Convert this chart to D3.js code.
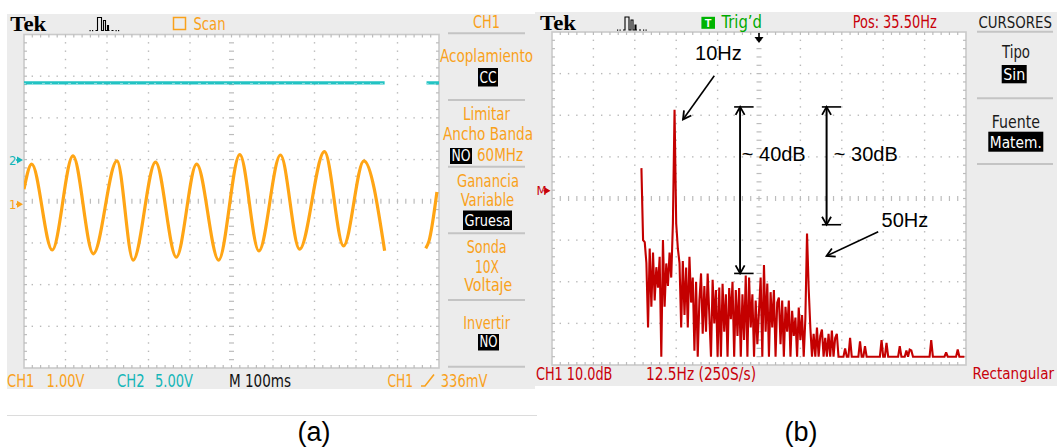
<!DOCTYPE html>
<html>
<head>
<meta charset="utf-8">
<script src="https://cdn.jsdelivr.net/npm/d3@7"></script>
<style>
body { margin: 0; background: #fff; }
svg { display: block; }
</style>
</head>
<body>
<div id="chart"></div>
<script>

// (a) CH1 trace, extrema of the sine (time in ms, volts), scan mode leaves a gap
var sineT = [0, 18.6, 68, 118, 167, 224, 263, 317, 367, 416, 469, 520, 566, 618, 664, 724, 770, 819, 869];
var sineV = [0.29, 0.89, -1.17, 1.09, -1.26, 0.97, -1.41, 0.94, -1.34, 0.89, -1.41, 1.12, -1.19, 1.11, -1.15, 1.19, -1.07, 0.97, -1.19];
var sineT2 = [968, 976, 995];
var sineV2 = [-1.13, -0.95, 0.22];

// (a) CH2 trace, flat (volts)
var ch2T = [0, 869];
var ch2T2 = [970, 1000];
var ch2V = 9.2;

// (b) FFT magnitude, dB, one value every 0.5 Hz from 0 Hz
var fftStep = 0.5;
var fftDb = [
  5.3, -12, -12.5, -17.5, -33, -14, -28, -15, -26.5, -18.5,
  -23.4, -16, -40, -12, -28, -17.6, -23, -15, -21, -8,
  19.3, -8, -14, -17.5, -33, -17, -30, -18.6, -33, -16,
  -27, -21, -38.6, -22, -40, -26.5, -20, -34.5, -23, -34,
  -20, -30, -40, -21.5, -32, -24, -40, -23.4, -40, -22.5,
  -34, -25, -40, -23.5, -31, -22, -40, -24, -35, -23.5,
  -40, -25, -36, -20.5, -40, -21, -33, -25, -40, -26.5,
  -37, -29, -21, -40, -18, -34, -22.4, -40, -24.5, -33,
  -24, -40, -27, -25.8, -37, -26.5, -40, -28, -34, -26.5,
  -40, -29, -35, -30.6, -40, -28.2, -36, -30, -40, -30.8,
  -10.4, -23.6, -33, -40, -34.5, -40, -33, -40, -35, -33.5,
  -40, -35.5, -40, -34.5, -40, -33.7, -40, -35.5, -34.5, -40,
  -40, -40, -40, -38, -40, -40, -35.5, -40, -40, -40,
  -40, -40, -36.3, -40, -40, -37.5, -40, -40, -40, -40,
  -40, -40, -40, -40, -40, -36, -40, -40, -36.7, -40,
  -40, -40, -40, -40, -40, -40, -37.5, -40, -40, -40,
  -38.5, -40, -38.3, -38.5, -40, -40, -40, -40, -40, -40,
  -40, -40, -40, -40, -40, -36, -40, -40, -40, -40,
  -40, -40, -40, -40, -39, -40, -40, -40, -40, -40,
  -40, -38.3, -40, -40, -40, -40
];

// annotations on (b): [Hz, dB]
var arrow10 = [[22.0, 27.5], [12.55, 17.0]];
var arrow50 = [[71.5, -10], [55.9, -15.8]];
var span40 = {f: 29.8, top: 20, bottom: -20};
var span30 = {f: 55.9, top: 20, bottom: -8.3};

var W = 1057, H = 447;
var orange = "#f9a11b", cyan = "#14b6b8", red = "#c8000a", green = "#00aa00", panel = "#ececec";
var tekFont = "'Liberation Sans Narrow','DejaVu Sans Condensed','Liberation Sans',sans-serif";

var svg = d3.select("#chart").append("svg")
  .attr("width", W).attr("height", H)
  .style("font-family", "'Liberation Sans', Arial, sans-serif");

var defs = svg.append("defs");
defs.append("marker").attr("id", "head")
  .attr("viewBox", "-10 -6 12 12").attr("refX", 0).attr("refY", 0)
  .attr("markerWidth", 12).attr("markerHeight", 12)
  .attr("markerUnits", "userSpaceOnUse").attr("orient", "auto")
  .append("path").attr("d", "M-8,-4.5 L0,0 L-8,4.5")
  .attr("fill", "none").attr("stroke", "#000").attr("stroke-width", 1.8);

// grey screen backgrounds
svg.append("rect").attr("x", 7).attr("y", 14).attr("width", 528).attr("height", 375).attr("fill", panel);
svg.append("rect").attr("x", 535).attr("y", 12).attr("width", 522).attr("height", 374).attr("fill", panel);

function tek(g, str, x, y, opt) {
  opt = opt || {};
  var t = g.append("text").attr("x", x).attr("y", y).text(str)
    .attr("fill", opt.color || orange)
    .style("font-family", tekFont)
    .style("font-size", (opt.size || 17) + "px");
  if (opt.w) t.attr("textLength", opt.w).attr("lengthAdjust", "spacingAndGlyphs");
  return t;
}

function tekBox(g, str, x0, y0, x1, y1, base) {
  g.append("rect").attr("x", x0).attr("y", y0).attr("width", x1 - x0).attr("height", y1 - y0).attr("fill", "#000");
  tek(g, str, x0 + 1.5, base, {color: "#fff", w: x1 - x0 - 3, size: 16});
}

function sep(g, x0, x1, y) {
  g.append("line").attr("x1", x0).attr("x2", x1).attr("y1", y).attr("y2", y)
    .attr("stroke", "#c4c4c4").attr("stroke-width", 2);
}

function tekLogo(g, x, y) {
  g.append("text").attr("x", x).attr("y", y).text("Tek")
    .attr("textLength", 36).attr("lengthAdjust", "spacingAndGlyphs")
    .style("font-family", "'Liberation Serif','DejaVu Serif',serif")
    .style("font-weight", "bold").style("font-size", "21px").attr("fill", "#000");
}

function acqIcon(g, x, y) {
  var ic = g.append("g").attr("transform", "translate(" + x + "," + y + ")");
  ic.append("path").attr("d", "M6,15 H8 V2 H12 V15 H14 V5 H16 V15 H18 V10 H19 V15 H20 M22,15 H24")
    .attr("fill", "none").attr("stroke", "#000").attr("stroke-width", 1.1);
  [0, 2.5, 26, 28.5].forEach(function (d) {
    ic.append("rect").attr("x", d).attr("y", 14.5).attr("width", 1.2).attr("height", 1.2).attr("fill", "#000");
  });
}

function graticule(g, b) {
  var gx = d3.scaleLinear().domain([0, 50]).range([b.x0, b.x1]);
  var gy = d3.scaleLinear().domain([0, 40]).range([b.y0, b.y1]);
  g.append("rect").attr("x", b.x0).attr("y", b.y0).attr("width", b.x1 - b.x0).attr("height", b.y1 - b.y0)
    .attr("fill", "#fff").attr("stroke", "#cacaca").attr("stroke-width", 1.6);
  var dots = [];
  [1, 2, 3, 4, 6, 7, 8, 9].forEach(function (d) {
    d3.range(1, 40).forEach(function (k) { dots.push([gx(d * 5), gy(k)]); });
  });
  [1, 2, 3, 5, 6, 7].forEach(function (d) {
    d3.range(1, 50).forEach(function (k) { if (k % 5) dots.push([gx(k), gy(d * 5)]); });
  });
  g.selectAll(null).data(dots).enter().append("rect")
    .attr("x", function (d) { return d[0] - 0.7; }).attr("y", function (d) { return d[1] - 0.7; })
    .attr("width", 1.4).attr("height", 1.4).attr("fill", "#b9b9b9");
  var tk = g.append("g").attr("stroke", "#bcbcbc").attr("stroke-width", 1.2);
  d3.range(1, 40).forEach(function (k) {
    tk.append("line").attr("x1", gx(25) - 2.5).attr("x2", gx(25) + 2.5).attr("y1", gy(k)).attr("y2", gy(k));
    tk.append("line").attr("x1", b.x0).attr("x2", b.x0 + 3).attr("y1", gy(k)).attr("y2", gy(k));
    tk.append("line").attr("x1", b.x1 - 3).attr("x2", b.x1).attr("y1", gy(k)).attr("y2", gy(k));
  });
  d3.range(1, 50).forEach(function (k) {
    tk.append("line").attr("y1", gy(20) - 2.5).attr("y2", gy(20) + 2.5).attr("x1", gx(k)).attr("x2", gx(k));
    tk.append("line").attr("y1", b.y0).attr("y2", b.y0 + 3).attr("x1", gx(k)).attr("x2", gx(k));
    tk.append("line").attr("y1", b.y1 - 3).attr("y2", b.y1).attr("x1", gx(k)).attr("x2", gx(k));
  });
}

function chMarker(g, label, color, x, y) {
  g.append("text").attr("x", x).attr("y", y + 4.5).text(label).attr("fill", color)
    .style("font-family", tekFont).style("font-size", "13px");
  g.append("path").attr("d", "M" + (x + 8) + "," + (y - 3.5) + " L" + (x + 14) + "," + y + " L" + (x + 8) + "," + (y + 3.5) + "Z")
    .attr("fill", color);
  g.append("line").attr("x1", x + 7).attr("x2", x + 9).attr("y1", y).attr("y2", y).attr("stroke", color).attr("stroke-width", 1.5);
}

// ================= (a) time domain =================
var gA = svg.append("g");
var boxA = {x0: 24, x1: 439, y0: 34.5, y1: 368};
var xA = d3.scaleLinear().domain([0, 1000]).range([boxA.x0, boxA.x1]);
var yA1 = d3.scaleLinear().domain([-4, 4]).range([boxA.y1, boxA.y0]);    // 1 V/div
var yA2 = d3.scaleLinear().domain([-25, 15]).range([boxA.y1, boxA.y0]);  // 5 V/div, offset +1 div

graticule(gA, boxA);
defs.append("clipPath").attr("id", "clipA").append("rect")
  .attr("x", boxA.x0).attr("y", boxA.y0).attr("width", boxA.x1 - boxA.x0).attr("height", boxA.y1 - boxA.y0);

var trA = gA.append("g").attr("clip-path", "url(#clipA)");
var ch2Line = d3.line().x(function (d) { return xA(d); }).y(function () { return yA2(ch2V); });
[ch2T, ch2T2].forEach(function (seg) {
  trA.append("path").attr("d", ch2Line(seg)).attr("fill", "none").attr("stroke", "#22c3c3").attr("stroke-width", 3.4);
  trA.append("path").attr("d", ch2Line(seg)).attr("fill", "none").attr("stroke", "#8fe0e0")
    .attr("stroke-width", 1).attr("stroke-dasharray", "2,6,1,9,3,5")
    .attr("transform", "translate(0,0.6)");
});

var sineLine = d3.line()
  .x(function (d) { return xA(d[0]); })
  .y(function (d) { return yA1(d[1]); })
  .curve(d3.curveMonotoneX);
trA.append("path").attr("d", sineLine(d3.zip(sineT, sineV)))
  .attr("fill", "none").attr("stroke", "#ffa515").attr("stroke-width", 3.2).attr("stroke-linejoin", "round");
trA.append("path").attr("d", sineLine(d3.zip(sineT2, sineV2)))
  .attr("fill", "none").attr("stroke", "#ffa515").attr("stroke-width", 3.2);

chMarker(gA, "2", cyan, 9, yA2(0) + 0.5);
chMarker(gA, "1", orange, 9, yA1(0) + 3);

tekLogo(gA, 10.3, 31);
acqIcon(gA, 89.5, 15.5);
gA.append("rect").attr("x", 173.5).attr("y", 17.5).attr("width", 12).attr("height", 12)
  .attr("fill", "none").attr("stroke", orange).attr("stroke-width", 1.5);
tek(gA, "Scan", 193.5, 29.5, {w: 32});
tek(gA, "CH1", 473, 27.5, {w: 27});

// CH1 menu
[33.3, 100, 166.7, 233.3, 300, 366.7].forEach(function (y) { sep(gA, 448, 525, y); });
tek(gA, "Acoplamiento", 440, 62, {w: 93});
tekBox(gA, "CC", 478, 68, 498, 86.5, 83);
tek(gA, "Limitar", 463, 120, {w: 47});
tek(gA, "Ancho Banda", 443, 140, {w: 90});
tekBox(gA, "NO", 450, 148, 472, 164, 161);
tek(gA, "60MHz", 477, 161, {w: 46});
tek(gA, "Ganancia", 457, 187, {w: 62});
tek(gA, "Variable", 460.7, 206, {w: 53.6});
tekBox(gA, "Gruesa", 463, 210.5, 512, 230, 226);
tek(gA, "Sonda", 466.7, 253, {w: 40});
tek(gA, "10X", 475, 273, {w: 24});
tek(gA, "Voltaje", 464.3, 291, {w: 48});
tek(gA, "Invertir", 463.3, 329, {w: 46.7});
tekBox(gA, "NO", 478, 334, 499, 350.5, 347);

// bottom status line
tek(gA, "CH1", 7, 386.8, {w: 27.4});
tek(gA, "1.00V", 46.5, 386.8, {w: 37.9});
tek(gA, "CH2", 117, 386.8, {w: 27.6, color: cyan});
tek(gA, "5.00V", 155, 386.8, {w: 38, color: cyan});
tek(gA, "M 100ms", 229, 386.8, {w: 62, color: "#111"});
tek(gA, "CH1", 387.4, 386.8, {w: 25.6});
gA.append("path").attr("d", "M421,386 H425 L434,374.5").attr("fill", "none").attr("stroke", orange).attr("stroke-width", 1.6);
tek(gA, "336mV", 440.8, 386.8, {w: 46.5});

// separator and caption
svg.append("line").attr("x1", 7).attr("x2", 537).attr("y1", 415.5).attr("y2", 415.5)
  .attr("stroke", "#dcdcdc").attr("stroke-width", 1);
svg.append("text").attr("x", 314).attr("y", 441).attr("text-anchor", "middle")
  .style("font-size", "27px").attr("fill", "#000").text("(a)");

// ================= (b) FFT =================
var gB = svg.append("g");
var boxB = {x0: 552, x1: 966, y0: 32, y1: 365};
var xB = d3.scaleLinear().domain([35.5 - 62.5, 35.5 + 62.5]).range([boxB.x0, boxB.x1]); // 12.5 Hz/div
var yB = d3.scaleLinear().domain([-42, 38]).range([boxB.y1, boxB.y0]);                   // 10 dB/div

graticule(gB, boxB);
defs.append("clipPath").attr("id", "clipB").append("rect")
  .attr("x", boxB.x0).attr("y", boxB.y0).attr("width", boxB.x1 - boxB.x0).attr("height", boxB.y1 - boxB.y0);

var fftLine = d3.line()
  .x(function (d, i) { return xB(i * fftStep); })
  .y(function (d) { return yB(d); });
gB.append("g").attr("clip-path", "url(#clipB)").append("path")
  .attr("d", fftLine(fftDb)).attr("fill", "none").attr("stroke", "#c40000")
  .attr("stroke-width", 2.1).attr("stroke-linejoin", "miter").attr("stroke-miterlimit", 2);

// trigger position arrow
var cx = xB(35.5);
gB.append("line").attr("x1", cx).attr("x2", cx).attr("y1", boxB.y0 + 1).attr("y2", boxB.y0 + 7).attr("stroke", "#000").attr("stroke-width", 1.6);
gB.append("path").attr("d", "M" + (cx - 4.5) + "," + (boxB.y0 + 5) + " L" + (cx + 4.5) + "," + (boxB.y0 + 5) + " L" + cx + "," + (boxB.y0 + 11) + "Z").attr("fill", "#000");

// M reference marker
chMarker(gB, "M", red, 536.5, yB(0) + 0.5);

tekLogo(gB, 540, 30);
acqIcon(gB, 617, 15);
gB.append("rect").attr("x", 701.4).attr("y", 16.8).attr("width", 13.6).attr("height", 12).attr("fill", "#00b400");
gB.append("text").attr("x", 708.2).attr("y", 27).attr("text-anchor", "middle").text("T")
  .attr("fill", "#fff").style("font-weight", "bold").style("font-size", "11px");
tek(gB, "Trig\u2019d", 721.6, 28, {w: 40.4, color: green});
tek(gB, "Pos: 35.50Hz", 852.7, 28, {w: 84, color: red});
tek(gB, "CURSORES", 978.5, 27.5, {w: 73.5, color: "#1a1a1a", size: 16});

[31.7, 98.3, 164].forEach(function (y) { sep(gB, 977, 1053, y); });
tek(gB, "Tipo", 1002, 58, {w: 28, color: "#1a1a1a"});
tekBox(gB, "Sin", 1001.7, 65, 1026.7, 83.3, 80);
tek(gB, "Fuente", 991.7, 128, {w: 48.3, color: "#1a1a1a"});
tekBox(gB, "Matem.", 988.3, 131.7, 1043.3, 151.7, 148);

tek(gB, "CH1 10.0dB", 536, 380, {w: 76.4, color: red});
tek(gB, "12.5Hz (250S/s)", 646, 380, {w: 110, color: red});
tek(gB, "Rectangular", 972.5, 378.5, {w: 81.5, color: red, size: 15});

// annotations
var ann = gB.append("g").attr("stroke", "#000").attr("stroke-width", 1.6).attr("fill", "none");
function pt(p) { return [xB(p[0]), yB(p[1])]; }
[arrow10, arrow50].forEach(function (a) {
  var p0 = pt(a[0]), p1 = pt(a[1]);
  ann.append("line").attr("x1", p0[0]).attr("y1", p0[1]).attr("x2", p1[0]).attr("y2", p1[1]).attr("marker-end", "url(#head)");
});
[[span40, 6, 13.5], [span30, 4.7, 14.5]].forEach(function (s) {
  var x = xB(s[0].f), yt = yB(s[0].top), yb = yB(s[0].bottom);
  ann.append("line").attr("x1", x).attr("x2", x).attr("y1", yb).attr("y2", yt).attr("marker-end", "url(#head)");
  ann.append("line").attr("x1", x).attr("x2", x).attr("y1", yt).attr("y2", yb).attr("marker-end", "url(#head)");
  ann.append("line").attr("x1", x - s[1]).attr("x2", x + s[2]).attr("y1", yt).attr("y2", yt);
  ann.append("line").attr("x1", x - s[1]).attr("x2", x + s[2]).attr("y1", yb).attr("y2", yb);
});

function label(str, f, db) {
  gB.append("text").attr("x", xB(f)).attr("y", yB(db)).text(str)
    .attr("fill", "#000").style("font-size", "20px");
}
label("10Hz", 16.2, 31.2);
label("~ 40dB", 30.3, 6.9);
label("~ 30dB", 58.1, 6.9);
label("50Hz", 72.5, -8.8);

svg.append("text").attr("x", 801).attr("y", 441).attr("text-anchor", "middle")
  .style("font-size", "27px").attr("fill", "#000").text("(b)");
</script>
</body>
</html>
